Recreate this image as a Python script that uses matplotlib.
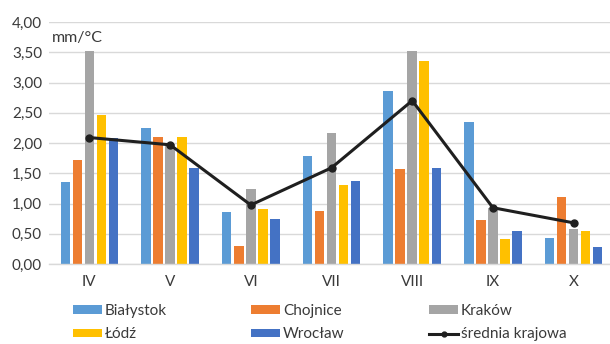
import matplotlib
matplotlib.use("Agg")
import matplotlib.pyplot as plt
import numpy as np
from matplotlib.ticker import FuncFormatter, MultipleLocator

plt.rcParams['font.family'] = ['Lato', 'DejaVu Sans']

months = ["IV", "V", "VI", "VII", "VIII", "IX", "X"]
bialystok = [1.35, 2.24, 0.86, 1.78, 2.86, 2.34, 0.43]
chojnice = [1.72, 2.10, 0.30, 0.88, 1.57, 0.73, 1.10]
krakow = [3.52, 1.98, 1.245, 2.165, 3.52, 0.925, 0.58]
lodz = [2.47, 2.10, 0.91, 1.31, 3.355, 0.41, 0.55]
wroclaw = [2.08, 1.58, 0.74, 1.38, 1.59, 0.55, 0.285]
srednia = [2.09, 1.97, 0.975, 1.59, 2.70, 0.93, 0.68]

series = [
    ("Białystok", bialystok, "#5B9BD5"),
    ("Chojnice", chojnice, "#ED7D31"),
    ("Kraków", krakow, "#A5A5A5"),
    ("Łódź", lodz, "#FFC000"),
    ("Wrocław", wroclaw, "#4472C4"),
]
text_col = "#3A3A3A"

fig = plt.figure(figsize=(6.10, 3.44), dpi=100)
ax = fig.add_axes([49 / 610, 80 / 344, 565 / 610, 242 / 344])

x = np.arange(len(months))
slot = 0.149
bar_w = 0.118
handles = []
for i, (name, vals, col) in enumerate(series):
    h = ax.bar(x + (i - 2) * slot, vals, width=bar_w, color=col, label=name, zorder=2)
    handles.append(h)

line, = ax.plot(x, srednia, color="#1F1F1F", lw=2.2, marker="o", ms=5,
                label="średnia krajowa", zorder=3)
handles.append(line)

ax.set_xlim(-0.5, len(months) - 0.5)
ax.set_ylim(0, 4.0)
ax.yaxis.set_major_locator(MultipleLocator(0.5))
ax.yaxis.set_major_formatter(FuncFormatter(lambda v, p: f"{v:.2f}".replace(".", ",")))
ax.set_xticks(x)
ax.set_xticklabels(months)

ax.grid(axis="y", color="#D9D9D9", lw=1, zorder=0)
ax.set_axisbelow(True)
for s in ["top", "right", "left"]:
    ax.spines[s].set_visible(False)
ax.spines["bottom"].set_color("#D9D9D9")
ax.spines["bottom"].set_linewidth(1)
ax.tick_params(axis="both", length=0, labelsize=11, colors=text_col)
ax.tick_params(axis="y", pad=5)
ax.tick_params(axis="x", pad=8)

# unit label in the upper left corner of the plot area
ax.text(-0.47, 3.74, "mm/°C", fontsize=11.5, color=text_col,
        ha="left", va="center", zorder=4)

# legend: three columns, each built as its own two-row legend
columns = [(0, 3, 73), (1, 4, 251), (2, 5, 429)]
for a, b, left_px in columns:
    col_handles = [handles[a], handles[b]]
    leg = fig.legend(
        col_handles, [h.get_label() for h in col_handles],
        ncol=1, loc="upper left", bbox_to_anchor=(left_px / 610, 1 - 304 / 344),
        frameon=False, fontsize=11, handlelength=1.9, handleheight=0.45,
        handletextpad=0.2, labelspacing=0.62, borderaxespad=0, borderpad=0,
        markerscale=0.7,
    )
    for t in leg.get_texts():
        t.set_color(text_col)

fig.savefig("out.png", dpi=100)
